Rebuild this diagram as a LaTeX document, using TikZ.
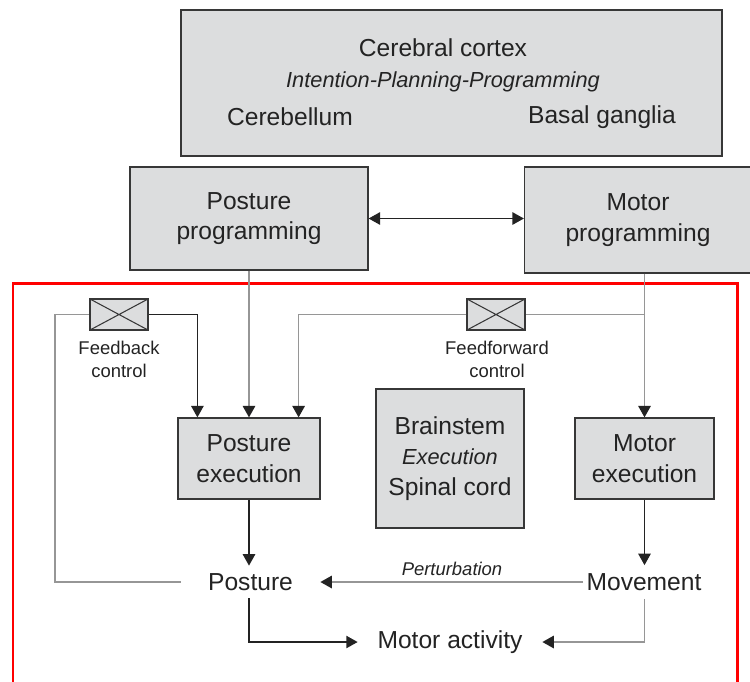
\documentclass[tikz,border=0pt]{standalone}
\usepackage{fontspec}
\setmainfont{Liberation Sans}
\usetikzlibrary{calc}
\usetikzlibrary{arrows.meta}

\definecolor{boxgray}{RGB}{220,221,222}
\definecolor{boxline}{RGB}{55,55,55}
\definecolor{linegray}{RGB}{150,150,150}
\definecolor{ink}{RGB}{35,35,35}

\begin{document}
\begin{tikzpicture}[x=0.02cm,y=-0.02cm]
\tikzstyle box=[draw=boxline, fill=boxgray, line width=0.7pt, align=center, text=ink, inner sep=0pt, font=\fontsize{14}{17.5}\selectfont];
\tikzstyle word=[text=ink, inner sep=0pt, font=\fontsize{14}{17.5}\selectfont];
\tikzstyle small=[text=ink, align=center, inner sep=0pt, font=\fontsize{10.5}{13}\selectfont];
\tikzstyle valve=[draw=boxline, fill=boxgray, line width=0.7pt, minimum width=1.16cm, minimum height=0.62cm, inner sep=0pt, path picture={\draw[boxline, line width=0.6pt] (path picture bounding box.north west) -- (path picture bounding box.south east) (path picture bounding box.south west) -- (path picture bounding box.north east);}];
\tikzstyle gline=[draw=linegray, line width=1pt];
\tikzstyle dline=[draw=ink, line width=0.9pt];
\tikzstyle arr=[-{Triangle[length=6.5pt,width=7pt,color=ink]}];
\useasboundingbox (0,0) rectangle (750,681);

\node[box, minimum width=10.82cm, minimum height=2.92cm] (cortex) at (451.5,83) {};
\node[word] (cerebral) at (443,48) {Cerebral cortex};
\node[word, font=\fontsize{12.4}{15}\selectfont\itshape] (intent) at (443,82) {Intention-Planning-Programming};
\node[word] (cerebellum) at (290,117) {Cerebellum};
\node[word] (basal) at (602,117) {Basal ganglia};

\node[box, minimum width=4.76cm, minimum height=2.06cm] (postprog) at (249,218.5) {Posture\\programming};
\node[box, minimum width=4.54cm, minimum height=2.12cm] (motprog) at (638,220) {Motor\\programming};

\draw[red, line width=1.7pt] (13,283) rectangle (737,720);

\node[valve] (fbbox) at (119,314.5) {};
\node[small] (fbtext) at (119,359) {Feedback\\control};
\node[valve] (ffbox) at (496,314.5) {};
\node[small] (fftext) at (497,359) {Feedforward\\control};

\node[box, minimum width=2.84cm, minimum height=1.62cm] (postexec) at (249,458.5) {Posture\\execution};
\node[box, minimum width=2.96cm, minimum height=2.78cm] (brain) at (450,458.5) {Brainstem\\{\fontsize{12.4}{15}\selectfont\itshape Execution}\\Spinal cord};
\node[box, minimum width=2.78cm, minimum height=1.62cm] (motexec) at (644.5,458.5) {Motor\\execution};

\node[word, minimum width=2.78cm, minimum height=0.64cm] (posture) at (250.5,582) {Posture};
\node[word, minimum width=2.42cm, minimum height=0.66cm] (movement) at (644,582) {Movement};
\node[word, minimum width=3.68cm, minimum height=0.6cm] (activity) at (450,642) {Motor activity};

\coordinate (fbleft) at (55,314.5);
\coordinate (fbin) at ($(postexec.north west)+(20,0)$);
\coordinate (ffin) at ($(postexec.north east)+(-22,0)$);
\coordinate (ffjoin) at (motexec.north |- ffbox);

\draw[dline, {Triangle[length=6.5pt,width=7pt]}-{Triangle[length=6.5pt,width=7pt]}] (postprog.east) -- (postprog.east -| motprog.west);
\draw[gline, arr] (postprog.south) -- (postexec.north);
\draw[gline, arr] (motprog.south -| motexec.north) -- (motexec.north);
\draw[gline] (ffjoin) -- (ffbox.east);
\draw[gline, arr] (ffbox.west) -| (ffin);
\draw[gline] (posture.west) -| (fbleft) -- (fbbox.west);
\draw[dline, arr] (fbbox.east) -| (fbin);
\draw[dline, arr] (postexec.south) -- (postexec.south |- posture.north);
\draw[dline, arr] (motexec.south) -- (motexec.south |- movement.north);
\draw[gline, arr] (movement.west) -- (posture.east);
\node[small, font=\fontsize{10.5}{13}\selectfont\itshape] (perturb) at (452,569) {Perturbation};
\draw[dline, arr] (postexec.south |- posture.south) |- (activity.west);
\draw[gline, arr] (motexec.south |- movement.south) |- (activity.east);
\end{tikzpicture}
\end{document}
